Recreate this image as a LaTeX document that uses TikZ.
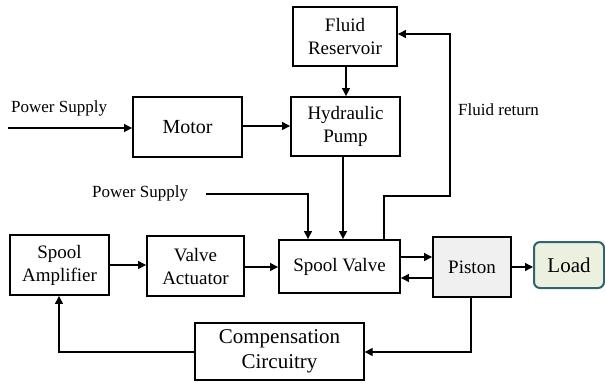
\documentclass[tikz,border=0pt]{standalone}
\usepackage{fontspec}
\setmainfont{Liberation Serif}
\usetikzlibrary{arrows.meta}
\definecolor{pistonfill}{HTML}{F0F0F0}
\definecolor{loadfill}{HTML}{EBF0DF}
\definecolor{loaddraw}{HTML}{2F6470}
\begin{document}
\begin{tikzpicture}[x=1pt,y=-1pt,
  blk/.style={draw, line width=1.9pt, inner sep=0pt, align=center,
    font=\fontsize{19}{23}\selectfont},
  arr/.style={line width=1.3pt, -{Triangle[length=8pt,width=8pt]}},
  lbl/.style={inner sep=0pt, font=\fontsize{17}{20}\selectfont}]
\useasboundingbox (0,0) rectangle (605,383);
% blocks
\node[blk, minimum width=104pt, minimum height=59pt] (res) at (345,36.5) {Fluid\\Reservoir};
\node[blk, minimum width=109pt, minimum height=59pt] (pump) at (345.5,126.5) {Hydraulic\\Pump};
\node[blk, minimum width=109pt, minimum height=60pt, font=\fontsize{20}{23}\selectfont] (motor) at (187.5,127) {Motor};
\node[blk, minimum width=99pt, minimum height=60pt] (amp) at (59.5,265) {Spool\\Amplifier};
\node[blk, minimum width=97pt, minimum height=60pt] (act) at (195.5,266) {Valve\\Actuator};
\node[blk, minimum width=121pt, minimum height=53pt] (sv) at (339.5,266.5) {Spool Valve};
\node[blk, fill=pistonfill, minimum width=78pt, minimum height=60pt] (piston) at (472,267) {Piston};
\node[blk, draw=loaddraw, fill=loadfill, rounded corners=6pt, line width=2pt,
  minimum width=70pt, minimum height=46pt, font=\fontsize{21}{23}\selectfont] (load) at (569,265) {Load};
\node[blk, line width=1.3pt, minimum width=169pt, minimum height=57pt,
  font=\fontsize{21}{25}\selectfont] (comp) at (279.5,351.5) {Compensation\\Circuitry};
% labels
\node[lbl, anchor=west] (ps1t) at (11,108) {Power Supply};
\node[lbl, anchor=west] (ps2t) at (92,193) {Power Supply};
\node[lbl, anchor=west] (frt) at (458,110) {Fluid return};
% free ends
\coordinate (ps1) at (8,128);
\coordinate (ps2) at (206,194);
\coordinate (ps2c) at (308,194);
\coordinate (fr1) at (384,196);
\coordinate (fr2) at (450,196);
\coordinate (fr3) at (450,34);
\coordinate (pd) at (343,0);
% connectors
\draw[arr] (ps1) -- (ps1 -| motor.west);
\draw[arr] (motor.east |- 0,126) -- (pump.west |- 0,126);
\draw[arr] (res.south -| 346,0) -- (pump.north -| 346,0);
\draw[arr] (pump.south -| pd) -- (sv.north -| pd);
\draw[arr] (ps2) -- (ps2c) -- (ps2c |- sv.north);
\draw[arr] (sv.north -| fr1) -- (fr1) -- (fr2) -- (fr3) -- (fr3 -| res.east);
\draw[arr] (amp.east) -- (act.west |- amp.east);
\draw[arr] (act.east |- 0,267) -- (sv.west |- 0,267);
\draw[arr] (sv.east |- 0,257) -- (piston.west |- 0,257);
\draw[arr] (piston.west |- 0,278) -- (sv.east |- 0,278);
\draw[arr] (piston.east) -- (load.west |- piston.east);
\draw[arr] (piston.south -| 471,0) -- (471,352) -- (comp.east |- 0,352);
\draw[arr] (comp.west |- 0,352) -- (59,352) -- (amp.south -| 59,0);
\end{tikzpicture}
\end{document}
